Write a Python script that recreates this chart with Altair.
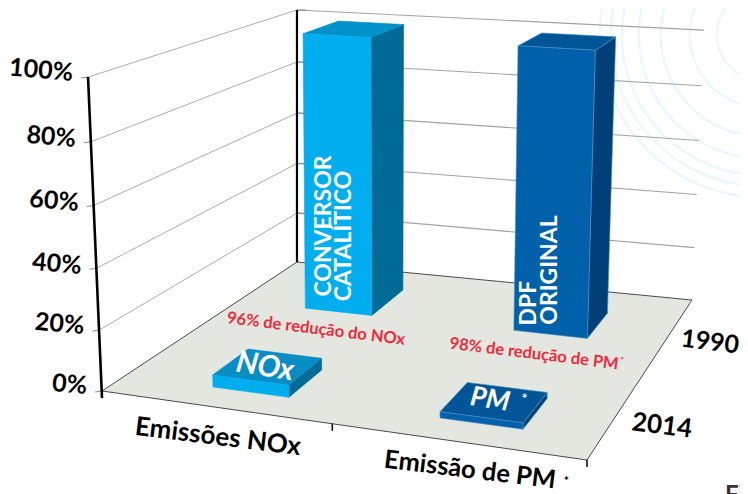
import altair as alt
import numpy as np
import pandas as pd

# ---- data -----------------------------------------------------------------
CATEGORIES = ["Emissões NOx", "Emissão de PM"]
YEARS = ["1990", "2014"]
VALUES_1990 = [100, 100]
VALUES_2014 = [4, 2]
Y_TICKS = [0, 20, 40, 60, 80, 100]
BAR_LABELS = [["CONVERSOR", "CATALÍTICO"], ["DPF", "ORIGINAL"]]
BOX_LABELS = ["NOx", "PM"]
NOTES = ["96% de redução do NOx", "98% de redução de PM"]

# ---- window / scales ------------------------------------------------------
M = 8
W, H = 732, 486
SX = alt.Scale(domain=[M, M + W], range=[0, W])
SY = alt.Scale(domain=[M, M + H], range=[0, H])
FONT = "Lato"

BAR_FEET = [(0.175, 0.342, 0.648, 0.857), (0.677, 0.841, 0.652, 0.84)]
BOX_FEET = [(0.205, 0.375, 0.10, 0.27), (0.692, 0.855, 0.10, 0.27)]


# ---- camera: (category, depth, height) -> picture --------------------------
def fit(points):
    A, B = [], []
    for (u, v), (X, Y), wt in points:
        A.append([wt * c for c in (u, v, 1, 0, 0, 0, -X * u, -X * v)]); B.append(wt * X)
        A.append([wt * c for c in (0, 0, 0, u, v, 1, -Y * u, -Y * v)]); B.append(wt * Y)
    return np.linalg.lstsq(np.array(A, float), np.array(B, float), rcond=None)[0]


FLOOR = fit([((0, 0), (102, 391), 1), ((1, 0), (587, 460), 1), ((0, 1), (297, 262), 1), ((1, 1), (692, 300), 1)])
b1, b2 = BAR_FEET
ROOF = fit([((0, 0), (88, 77), 5), ((0, 1), (297, 10), 5), ((1, 1), (704, 30), 5),
            ((b1[0], b1[2]), (305.7, 32.7), 1), ((b1[1], b1[2]), (372.3, 38.7), 1),
            ((b1[0], b1[3]), (335.7, 21.3), 1), ((b1[1], b1[3]), (402.3, 25.3), 1),
            ((b2[0], b2[2]), (519.3, 47), 1), ((b2[1], b2[2]), (593.7, 50.3), 1),
            ((b2[0], b2[3]), (542.3, 33.3), 1), ((b2[1], b2[3]), (614.7, 37.3), 1)])


def hom(H8, u, v):
    d = H8[6] * u + H8[7] * v + 1
    return (H8[0] * u + H8[1] * v + H8[2]) / d, (H8[3] * u + H8[4] * v + H8[5]) / d


def proj(u, v, pct):
    w = pct / 100
    f = w / (1.039 - 0.039 * w)
    x0, y0 = hom(FLOOR, u, v)
    x1, y1 = hom(ROOF, u, v)
    return x0 + f * (x1 - x0), y0 + f * (y1 - y0)


def polygon(corners, fill, stroke=None, sw=0.6):
    pts = [proj(*c) for c in corners] + [proj(*corners[0])]
    df = pd.DataFrame({"x": [p[0] for p in pts], "y": [p[1] for p in pts], "i": range(len(pts))})
    return alt.Chart(df).mark_line(fill=fill, stroke=stroke or fill, strokeWidth=sw).encode(
        x=alt.X("x:Q", scale=SX, axis=None), y=alt.Y("y:Q", scale=SY, axis=None), order="i:Q")


def prism(u0, u1, v0, v1, h, front, top, side, edge):
    return [
        polygon([(u1, v0, 0), (u1, v1, 0), (u1, v1, h), (u1, v0, h)], side, edge),
        polygon([(u0, v0, h), (u1, v0, h), (u1, v1, h), (u0, v1, h)], top, edge),
        polygon([(u0, v0, 0), (u1, v0, 0), (u1, v0, h), (u0, v0, h)], front, edge),
    ]


def lines(segs, color, sw):
    df = pd.DataFrame(segs, columns=["x", "y", "x2", "y2"])
    return alt.Chart(df).mark_rule(stroke=color, strokeWidth=sw).encode(
        x=alt.X("x:Q", scale=SX, axis=None), y=alt.Y("y:Q", scale=SY, axis=None),
        x2="x2:Q", y2="y2:Q")


def label(txt, x, y, size, color="#000000", angle=0, weight="bold", align="center",
          style="normal", baseline="middle"):
    df = pd.DataFrame({"x": [x], "y": [y], "t": [txt]})
    return alt.Chart(df).mark_text(font=FONT, fontSize=size, fontWeight=weight, fontStyle=style,
                                   color=color, angle=angle, align=align, baseline=baseline).encode(
        x=alt.X("x:Q", scale=SX, axis=None), y=alt.Y("y:Q", scale=SY, axis=None), text="t:N")


layers = []

# faint watermark rings, top right
RINGS = [161, 150, 139, 122, 100, 71, 44]
rdf = pd.DataFrame({"x": [762] * len(RINGS), "y": [35] * len(RINGS), "r": RINGS,
                    "r2": [r + 2.5 for r in RINGS]})
layers.append(alt.Chart(rdf).mark_arc(theta=0, theta2=6.2832, color="#eaf8fd").encode(
    x=alt.X("x:Q", scale=SX, axis=None), y=alt.Y("y:Q", scale=SY, axis=None),
    radius=alt.Radius("r:Q", scale=None), radius2="r2:Q"))

# floor
layers.append(polygon([(0, 0, 0), (1, 0, 0), (1, 1, 0), (0, 1, 0)], "#e3e7df", "#4a4a4a", 1))

# gridlines and ticks
grid_left, grid_back, ticks = [], [], []
for t in Y_TICKS:
    a = proj(0, 0, t); b = proj(0, 1, t); c = proj(1, 1, t)
    grid_left.append([*a, *b])
    if t:
        grid_back.append([*b, *c])
    ticks.append([a[0] - 7, a[1] + 1, *a])
    if t:
        ticks.append([b[0], b[1], b[0] + 9, b[1]])
layers.append(lines(grid_left[1:], "#a3a3a3", 0.9))
layers.append(lines(grid_back, "#a3a3a3", 1.1))
layers.append(lines(ticks, "#8a8a8a", 1))

# axes
o = proj(0, 0, 0); t = proj(0, 0, 100); bo = proj(0, 1, 0); bt = proj(0, 1, 100)
layers.append(lines([[t[0], t[1], o[0], o[1] + 7]], "#000000", 2.6))
layers.append(lines([[bt[0], bt[1], bo[0], bo[1]]], "#000000", 2.2))
m = proj(0.51, 0, 0); e = proj(1, 0, 0)
layers.append(lines([[m[0], m[1], m[0], m[1] + 7], [e[0], e[1], e[0], e[1] + 7]], "#111111", 1.6))

# bars (1990) at the back, boxes (2014) in front
FACES = [("#00aeef", "#0092c8", "#006b96", None), ("#0060a9", "#005596", "#003f78", "#4f8fc6")]
for feet, val, col in zip(BAR_FEET, VALUES_1990, FACES):
    layers += prism(*feet, val, col[0], col[1], col[2], col[3])
BOX_FACES = [("#00aeef", "#0a8cc4", "#006b96", None), ("#0060a9", "#005596", "#004074", "#4f8fc6")]
for feet, val, col in zip(BOX_FEET, VALUES_2014, BOX_FACES):
    layers += prism(*feet, val, col[0], col[1], col[2], col[3])

# y labels
LABEL_Y = {0: 386, 20: 326, 40: 266, 60: 203, 80: 139, 100: 73}
for t in Y_TICKS:
    x, _ = proj(0, 0, t)
    layers.append(label(f"{t}%", x - 15, LABEL_Y[t], 25, angle=5, align="right"))

# category and depth labels
layers.append(label(CATEGORIES[0], 218, 437, 26, angle=7))
layers.append(label(CATEGORIES[1], 470, 470, 25.5, angle=7))
layers.append(label("*", 566, 481, 12, angle=7))
layers.append(label(YEARS[0], 710, 342, 25, angle=7))
layers.append(label(YEARS[1], 662, 426, 26, angle=7))

# red notes
layers.append(label(NOTES[0], 316, 329, 16.5, "#ee2a3c", 7))
layers.append(label(NOTES[1], 534, 354, 16.5, "#ee2a3c", 7))
layers.append(label("*", 622, 361, 8, "#ee2a3c", 7))

# text on the bars
layers.append(label(BAR_LABELS[0][0], 324, 226, 23, "#ffffff", 270))
layers.append(label(BAR_LABELS[0][1], 344, 236, 23, "#ffffff", 270))
layers.append(label(BAR_LABELS[1][0], 529, 303, 23, "#ffffff", 270))
layers.append(label(BAR_LABELS[1][1], 550, 270, 23, "#ffffff", 270))

# text on the boxes
layers.append(label(BOX_LABELS[0], 265, 367, 30, "#ffffff", 9, style="italic"))
layers.append(label(BOX_LABELS[1], 490, 400, 27, "#ffffff", 9, style="italic"))
layers.append(label("*", 524, 400, 16, "#ffffff", 9, "normal"))

# cut-off logo letters, bottom right
layers.append(label("Fi", 725, 503, 24, "#333333", 0, align="left", baseline="alphabetic"))

chart = alt.layer(*layers).properties(
    width=W, height=H, padding=0, autosize=alt.AutoSizeParams(type="none"),
    background="#ffffff"
).configure_view(stroke=None)

chart.save("out.html", embed_options={"renderer": "svg", "actions": False})
